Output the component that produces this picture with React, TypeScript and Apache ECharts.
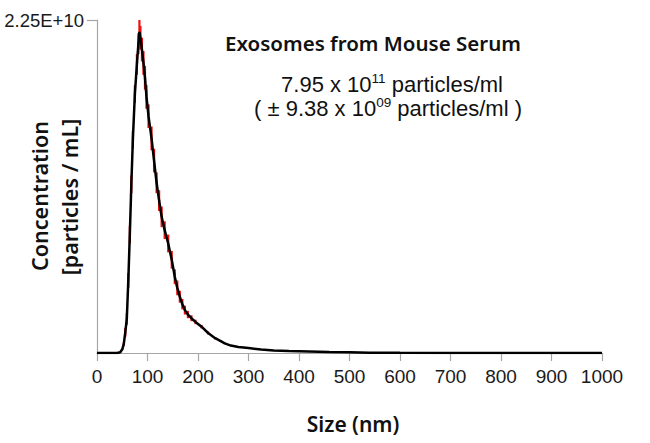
import React, { useEffect, useRef } from "react";
import * as echarts from "echarts";

// Particle size (nm)
const sizes = [0, 40, 46, 50, 53, 56, 59, 62, 65, 68, 71, 75, 79, 82, 84, 86, 89, 92, 95, 98, 102, 108, 113, 118, 123, 128, 134, 141, 148, 154, 159, 164, 169, 174, 180, 187, 195, 207, 220, 234, 245, 253, 265, 280, 300, 325, 350, 380, 420, 460, 500, 540, 600, 700, 800, 900, 1000];
// Concentration (x 1e9 particles / mL)
const concentration = [0, 0, 0.05, 0.25, 0.6, 1.4, 2.3, 4.9, 8.0, 11.4, 14.4, 17.5, 19.5, 20.9, 21.7, 21.3, 20.5, 19.6, 18.6, 17.3, 16.0, 14.5, 13.0, 11.5, 10.3, 9.2, 8.3, 7.4, 6.3, 5.15, 4.4, 3.8, 3.3, 2.9, 2.6, 2.35, 2.1, 1.78, 1.35, 1.0, 0.8, 0.65, 0.5, 0.4, 0.33, 0.24, 0.17, 0.13, 0.1, 0.07, 0.05, 0.02, 0.01, 0.005, 0.003, 0.002, 0];
// Error (± x 1e9)
const errors = [0, 0, 0.02, 0.05, 0.1, 0.3, 0.4, 0.5, 0.6, 0.6, 0.6, 0.6, 0.7, 0.7, 0.8, 0.8, 0.8, 0.8, 0.8, 0.8, 0.8, 0.8, 0.8, 0.7, 0.7, 0.7, 0.6, 0.6, 0.6, 0.5, 0.5, 0.4, 0.35, 0.3, 0.25, 0.2, 0.15, 0.12, 0.1, 0.08, 0.06, 0.05, 0.04, 0.03, 0.02, 0.02, 0.01, 0.01, 0.01, 0, 0, 0, 0, 0, 0, 0, 0];

const yMax = 2.25e10;
const yTopLabel = "2.25E+10";
const title = "Exosomes from Mouse Serum";
const xName = "Size (nm)";
const yName1 = "Concentration";
const yName2 = "[particles / mL]";

export default function App() {
  const ref = useRef<HTMLDivElement>(null);
  useEffect(() => {
    document.body.style.margin = "0";
    const chart = echarts.init(ref.current!, null, { renderer: "svg" });
    const lineData = sizes.map((s, i) => [s, concentration[i] * 1e9]);
    const errData = sizes.map((s, i) => [s, (concentration[i] - errors[i]) * 1e9, (concentration[i] + errors[i]) * 1e9]);
    const axisGray = "#a6a6a6";
    const sans = "'Noto Sans', sans-serif";
    const arial = "'Liberation Sans', Arial, sans-serif";
    const rich = {
      m: { fontSize: 22, fontFamily: arial, fill: "#111", lineHeight: 25 },
      s: { fontSize: 13.5, fontFamily: arial, fill: "#111", lineHeight: 14, verticalAlign: "top" },
    };
    chart.setOption({
      animation: false,
      backgroundColor: "#ffffff",
      grid: { left: 97, right: 48, top: 20, bottom: 90 },
      xAxis: {
        type: "value",
        min: 0,
        max: 1000,
        interval: 100,
        splitLine: { show: false },
        axisLine: { lineStyle: { color: axisGray, width: 1.2 } },
        axisTick: { length: 8, lineStyle: { color: axisGray, width: 1.2 } },
        axisLabel: {
          color: "#1a1a1a",
          fontSize: 19,
          fontFamily: arial,
          margin: 14,
          formatter: (v: number) => String(v),
        },
      },
      yAxis: {
        type: "value",
        min: 0,
        max: yMax,
        interval: yMax,
        splitLine: { show: false },
        axisLine: { show: true, lineStyle: { color: axisGray, width: 1.2 } },
        axisTick: { show: true, length: 10, customValues: [yMax], lineStyle: { color: axisGray, width: 1.2 } },
        axisLabel: {
          customValues: [yMax],
          color: "#1a1a1a",
          fontSize: 18.5,
          fontFamily: arial,
          margin: 13,
          formatter: (v: number) => (v >= yMax ? yTopLabel : ""),
        },
      },
      series: [
        {
          type: "custom",
          z: 1,
          data: errData,
          renderItem: (params: any, api: any) => {
            const lo = api.coord([api.value(0), api.value(1)]);
            const hi = api.coord([api.value(0), api.value(2)]);
            return {
              type: "line",
              shape: { x1: lo[0], y1: lo[1], x2: hi[0], y2: hi[1] },
              style: { stroke: "#ee1111", lineWidth: 2.2 },
            };
          },
        },
        {
          type: "line",
          z: 2,
          data: lineData,
          showSymbol: false,
          lineStyle: { color: "#000000", width: 2.5 },
          itemStyle: { color: "#000000" },
        },
      ],
      graphic: [
        {
          type: "text",
          x: 373,
          y: 43,
          style: {
            text: title,
            fontSize: 20.5,
            fontWeight: 600,
            fontFamily: sans,
            fill: "#111",
            textAlign: "center",
            textVerticalAlign: "middle",
          },
        },
        {
          type: "text",
          x: 392,
          y: 84,
          style: {
            text: "{m|7.95 x 10}{s|11}{m| particles/ml}",
            textAlign: "center",
            textVerticalAlign: "middle",
            rich,
          },
        },
        {
          type: "text",
          x: 388,
          y: 108,
          style: {
            text: "{m|( ± 9.38 x 10}{s|09}{m| particles/ml )}",
            textAlign: "center",
            textVerticalAlign: "middle",
            rich,
          },
        },
        {
          type: "text",
          x: 353,
          y: 424,
          style: {
            text: xName,
            fontSize: 21,
            fontWeight: 600,
            fontFamily: sans,
            fill: "#111",
            textAlign: "center",
            textVerticalAlign: "middle",
          },
        },
        {
          type: "text",
          x: 39,
          y: 196,
          rotation: Math.PI / 2,
          style: {
            text: yName1,
            fontSize: 21.5,
            fontWeight: 600,
            fontFamily: sans,
            fill: "#111",
            textAlign: "center",
            textVerticalAlign: "middle",
          },
        },
        {
          type: "text",
          x: 69,
          y: 197,
          rotation: Math.PI / 2,
          style: {
            text: yName2,
            fontSize: 21.5,
            fontWeight: 600,
            fontFamily: sans,
            fill: "#111",
            textAlign: "center",
            textVerticalAlign: "middle",
          },
        },
      ],
    });
    return () => chart.dispose();
  }, []);
  return <div ref={ref} style={{ width: 650, height: 443 }} />;
}
